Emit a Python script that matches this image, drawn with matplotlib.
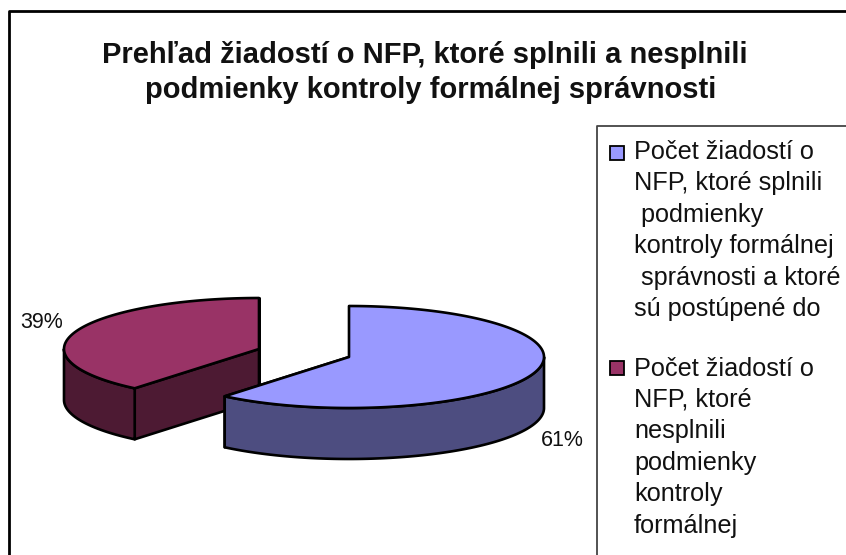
#!/usr/bin/python

import numpy as np
import matplotlib
matplotlib.use('Agg')
import matplotlib.pyplot as plt
from matplotlib.patches import Polygon, Rectangle

title_lines = ['Prehľad žiadostí o NFP, ktoré splnili a nesplnili', 'podmienky kontroly formálnej správnosti']
shares = [61, 39]
share_labels = ['61%', '39%']
legend_lines_a = ['Počet žiadostí o', 'NFP, ktoré splnili', ' podmienky', 'kontroly formálnej',
                  ' správnosti a ktoré', 'sú postúpené do']
legend_lines_b = ['Počet žiadostí o', 'NFP, ktoré', 'nesplnili', 'podmienky', 'kontroly', 'formálnej']
top_colors = ['#9999ff', '#993366']
side_colors = ['#4d4d80', '#4d1a33']
centers = [(349, 357), (259, 349)]

W, H = 846, 555
RX, RY, DEPTH = 195, 51, 51
plt.rcParams['font.family'] = ['Liberation Sans', 'DejaVu Sans']

fig = plt.figure(figsize=(W / 100, H / 100), dpi=100)
ax = fig.add_axes([0, 0, 1, 1])
ax.set_xlim(0, W)
ax.set_ylim(H, 0)
ax.axis('off')

# outer frame, right and bottom are cut off in the picture
ax.plot([9, 9, W + 5], [H + 5, 11, 11], color='black', lw=2)
ax.text(425, 55, title_lines[0], ha='center', va='center', fontsize=21, fontweight='bold', color='#111111')
ax.text(431, 90, title_lines[1], ha='center', va='center', fontsize=21, fontweight='bold', color='#111111')

# slices: angle runs clockwise from 12 o'clock, in ellipse parameter
def rim(cx, cy, a0, a1):
  t = np.radians(np.linspace(a0, a1, 200))
  return cx + RX * np.sin(t), cy - RY * np.cos(t)

def slice3d(i, a0, a1, z):
  cx, cy = centers[i]
  x, y = rim(cx, cy, a0, a1)
  kw = dict(edgecolor='black', lw=1.9, joinstyle='round', zorder=z)
  # cut faces
  for a in (a0, a1):
    ex, ey = rim(cx, cy, a, a)
    pts = [(cx, cy), (ex[0], ey[0]), (ex[0], ey[0] + DEPTH), (cx, cy + DEPTH)]
    ax.add_patch(Polygon(pts, facecolor=side_colors[i], **kw))
  # outer wall on the front half only
  lo, hi = max(a0, 90), min(a1, 270)
  if hi > lo:
    wx, wy = rim(cx, cy, lo, hi)
    pts = list(zip(wx, wy)) + list(zip(wx[::-1], wy[::-1] + DEPTH))
    ax.add_patch(Polygon(pts, facecolor=side_colors[i], **kw))
  ax.add_patch(Polygon([(cx, cy)] + list(zip(x, y)), facecolor=top_colors[i], **kw))

sweep_a = 360 * shares[0] / sum(shares)
slice3d(1, sweep_a, 360, 2)
slice3d(0, 0, sweep_a, 3)

ax.text(562, 440, share_labels[0], ha='center', va='center', fontsize=15.5, color='#111111')
ax.text(42, 322, share_labels[1], ha='center', va='center', fontsize=15.5, color='#111111')

# legend box, also cut off at right and bottom
ax.plot([597, 597, W + 5], [H + 5, 126, 126], color='#444444', lw=1.3)
ax.add_patch(Rectangle((610, 146), 14, 14, facecolor=top_colors[0], edgecolor='black', lw=1.3))
ax.add_patch(Rectangle((610, 361), 14, 14, facecolor=top_colors[1], edgecolor='black', lw=1.3))
for k, line in enumerate(legend_lines_a):
  ax.text(634, 159 + k * 31.4, line, va='baseline', fontsize=18.2, color='#111111')
for k, line in enumerate(legend_lines_b):
  ax.text(634, 375.6 + k * 31.4, line, va='baseline', fontsize=18.2, color='#111111')

plt.savefig('out.png', dpi=100)
